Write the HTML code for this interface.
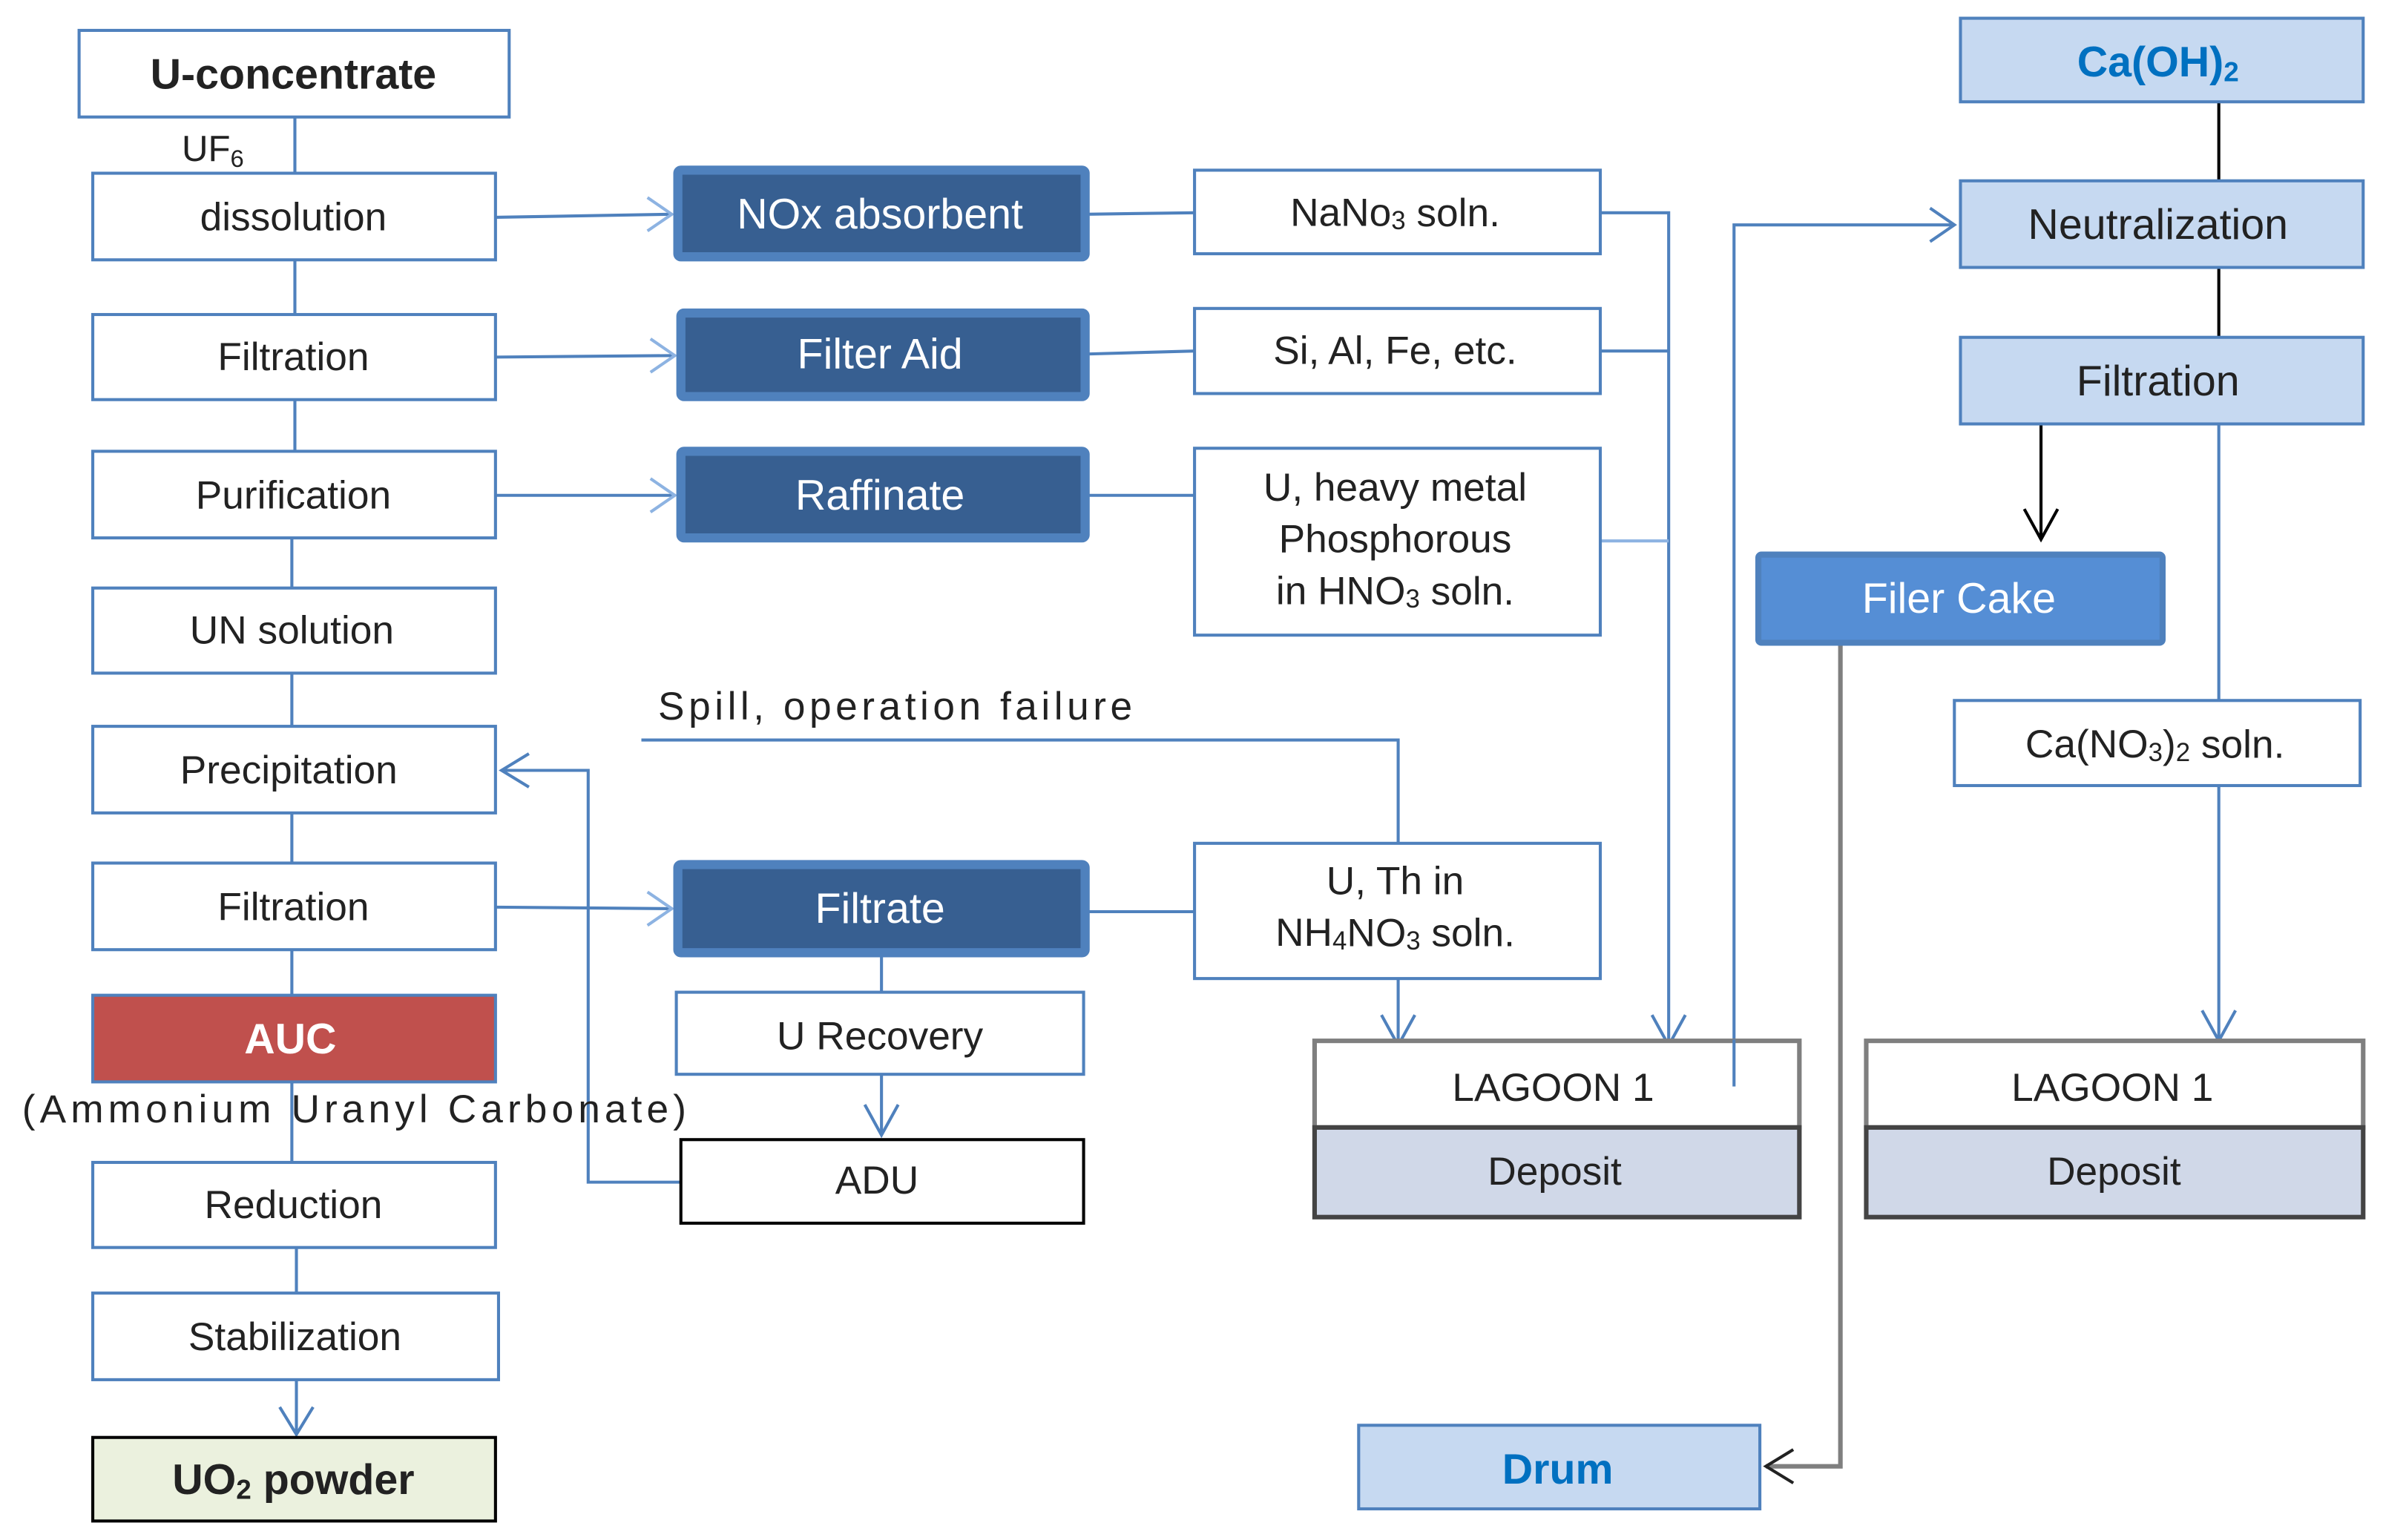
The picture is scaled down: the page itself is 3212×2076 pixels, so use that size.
<!DOCTYPE html>
<html><head><meta charset="utf-8"><style>
html,body{margin:0;padding:0;background:#fff}
svg{display:block}
text{font-family:"Liberation Sans",sans-serif;font-size:26px;fill:#222;text-anchor:middle;dominant-baseline:central}
</style></head><body>
<svg width="3212" height="2076" viewBox="0 0 1568 1013.5" xmlns="http://www.w3.org/2000/svg">
<g fill="none" stroke="#4f81bd" stroke-width="2">
<line x1="194" y1="77" x2="194" y2="114"/>
<line x1="194" y1="171" x2="194" y2="207"/>
<line x1="194" y1="263" x2="194" y2="297"/>
<line x1="192" y1="354" x2="192" y2="387"/>
<line x1="192" y1="443" x2="192" y2="478"/>
<line x1="192" y1="535" x2="192" y2="568"/>
<line x1="192" y1="625" x2="192" y2="655"/>
<line x1="192" y1="712" x2="192" y2="765"/>
<line x1="195" y1="821" x2="195" y2="851"/>
<line x1="195" y1="908" x2="195" y2="944"/>
<polyline points="184,926 195,944 206,926"/>
<line x1="326" y1="143" x2="442" y2="141"/><polyline points="426,130 442,141 426,152" stroke="#8db3e2"/>
<line x1="326" y1="235" x2="444" y2="234"/><polyline points="428,223 444,234 428,245" stroke="#8db3e2"/>
<line x1="326" y1="326" x2="444" y2="326"/><polyline points="428,315 444,326 428,337" stroke="#8db3e2"/>
<line x1="326" y1="597" x2="442" y2="598"/><polyline points="426,587 442,598 426,609" stroke="#8db3e2"/>
<line x1="715" y1="141" x2="786" y2="140"/>
<line x1="715" y1="233" x2="786" y2="231"/>
<line x1="715" y1="326" x2="786" y2="326"/>
<line x1="715" y1="600" x2="786" y2="600"/>
<polyline points="1053,140 1098,140 1098,688"/>
<line x1="1053" y1="231" x2="1098" y2="231"/>
<line x1="1048" y1="356" x2="1098" y2="356" stroke="#8db3e2"/>
<polyline points="1087,668 1098,688 1109,668"/>
<polyline points="422,487 920,487 920,555"/>
<line x1="920" y1="644" x2="920" y2="688"/>
<polyline points="909,668 920,688 931,668"/>
<line x1="580" y1="628" x2="580" y2="653"/>
<line x1="580" y1="707" x2="580" y2="747"/>
<polyline points="569,727 580,747 591,727"/>
<polyline points="448,778 387,778 387,507 330,507"/>
<polyline points="348,496 330,507 348,518"/>
<polyline points="1141,715 1141,148 1286,148"/>
<polyline points="1270,137 1286,148 1270,159"/>
<line x1="1460" y1="279" x2="1460" y2="461"/>
<line x1="1460" y1="517" x2="1460" y2="685"/>
<polyline points="1449,665 1460,685 1471,665"/>
</g>
<g stroke="#000" stroke-width="2" fill="none">
<line x1="1460" y1="67" x2="1460" y2="119"/>
<line x1="1460" y1="176" x2="1460" y2="222"/>
<line x1="1343" y1="279" x2="1343" y2="355"/>
<polyline points="1332,335 1343,355 1354,335"/>
</g>
<g stroke="#7f7f7f" stroke-width="3" fill="none">
<polyline points="1211,424 1211,965 1162,965"/>
<polyline points="1180,954 1162,965 1180,976" stroke="#222" stroke-width="2"/>
</g>
<g fill="#fff" stroke="#4f81bd" stroke-width="2">
<rect x="52" y="20" width="283" height="57"/>
<rect x="61" y="114" width="265" height="57"/>
<rect x="61" y="207" width="265" height="56"/>
<rect x="61" y="297" width="265" height="57"/>
<rect x="61" y="387" width="265" height="56"/>
<rect x="61" y="478" width="265" height="57"/>
<rect x="61" y="568" width="265" height="57"/>
<rect x="61" y="765" width="265" height="56"/>
<rect x="61" y="851" width="267" height="57"/>
<rect x="786" y="112" width="267" height="55"/>
<rect x="786" y="203" width="267" height="56"/>
<rect x="786" y="295" width="267" height="123"/>
<rect x="786" y="555" width="267" height="89"/>
<rect x="445" y="653" width="268" height="54"/>
<rect x="1286" y="461" width="267" height="56"/>
</g>
<rect x="61" y="655" width="265" height="57" fill="#c0504d" stroke="#4f81bd" stroke-width="2"/>
<rect x="61" y="946" width="265" height="55" fill="#ebf1de" stroke="#000" stroke-width="2"/>
<rect x="448" y="750" width="265" height="55" fill="#fff" stroke="#000" stroke-width="2"/>
<g fill="#375f91" stroke="#4f81bd" stroke-width="6">
<rect x="446" y="112" width="268" height="57" rx="2"/>
<rect x="448" y="206" width="266" height="55" rx="2"/>
<rect x="448" y="297" width="266" height="57" rx="2"/>
<rect x="446" y="569" width="268" height="58" rx="2"/>
</g>
<rect x="1157" y="365" width="266" height="58" fill="#558ed5" stroke="#4f81bd" stroke-width="4" rx="2"/>
<g fill="#c6d9f1" stroke="#4f81bd" stroke-width="2">
<rect x="1290" y="12" width="265" height="55"/>
<rect x="1290" y="119" width="265" height="57"/>
<rect x="1290" y="222" width="265" height="57"/>
<rect x="894" y="938" width="264" height="55"/>
</g>
<g stroke="#444" stroke-width="3">
<rect x="865" y="685" width="319" height="57" fill="#fff" stroke="#7f7f7f"/>
<rect x="865" y="742" width="319" height="59" fill="#d0d8e8"/>
<rect x="1228" y="685" width="327" height="57" fill="#fff" stroke="#7f7f7f"/>
<rect x="1228" y="742" width="327" height="59" fill="#d0d8e8"/>
</g>
<line x1="1141" y1="684" x2="1141" y2="715" stroke="#4f81bd" stroke-width="2"/>
<text x="193" y="49" font-weight="bold" style="font-size:28px">U-concentrate</text>
<text x="140" y="98" style="font-size:24px">UF<tspan dy="6" style="font-size:16px">6</tspan></text>
<text x="193" y="143">dissolution</text>
<text x="193" y="235">Filtration</text>
<text x="193" y="326">Purification</text>
<text x="192" y="415">UN solution</text>
<text x="190" y="507">Precipitation</text>
<text x="193" y="597">Filtration</text>
<text x="191" y="684" font-weight="bold" style="fill:#fff;font-size:28px">AUC</text>
<text x="233" y="730" style="font-size:26px" textLength="437" lengthAdjust="spacing">(Ammonium  Uranyl  Carbonate)</text>
<text x="193" y="793">Reduction</text>
<text x="194" y="880">Stabilization</text>
<text x="193" y="974" font-weight="bold" style="font-size:28px">UO<tspan dy="6" style="font-size:18px">2</tspan><tspan dy="-6"> powder</tspan></text>
<text x="579" y="141" style="fill:#fff;font-size:28px">NOx absorbent</text>
<text x="579" y="233" style="fill:#fff;font-size:28px">Filter  Aid</text>
<text x="579" y="326" style="fill:#fff;font-size:28px">Raffinate</text>
<text x="579" y="598" style="fill:#fff;font-size:28px">Filtrate</text>
<text x="1289" y="394" style="fill:#fff;font-size:28px">Filer  Cake</text>
<text x="918" y="140">NaNo<tspan dy="5" style="font-size:17px">3</tspan><tspan dy="-5"> soln.</tspan></text>
<text x="918" y="231">Si,  Al,  Fe,  etc.</text>
<text x="918" y="321">U,  heavy  metal</text>
<text x="918" y="355">Phosphorous</text>
<text x="918" y="389">in  HNO<tspan dy="5" style="font-size:17px">3</tspan><tspan dy="-5">  soln.</tspan></text>
<text x="918" y="580">U,  Th  in</text>
<text x="918" y="614">NH<tspan dy="5" style="font-size:17px">4</tspan><tspan dy="-5">NO</tspan><tspan dy="5" style="font-size:17px">3</tspan><tspan dy="-5">  soln.</tspan></text>
<text x="589" y="465" textLength="312" lengthAdjust="spacing">Spill,  operation  failure</text>
<text x="579" y="682">U  Recovery</text>
<text x="577" y="777">ADU</text>
<text x="1022" y="716">LAGOON 1</text>
<text x="1023" y="771">Deposit</text>
<text x="1390" y="716">LAGOON 1</text>
<text x="1391" y="771">Deposit</text>
<text x="1420" y="41" style="fill:#0070c0;font-size:28px" font-weight="bold">Ca(OH)<tspan dy="6" style="font-size:18px">2</tspan></text>
<text x="1420" y="148" style="font-size:28px">Neutralization</text>
<text x="1420" y="251" style="font-size:28px">Filtration</text>
<text x="1418" y="490">Ca(NO<tspan dy="5" style="font-size:17px">3</tspan><tspan dy="-5">)</tspan><tspan dy="5" style="font-size:17px">2</tspan><tspan dy="-5">  soln.</tspan></text>
<text x="1025" y="967" font-weight="bold" style="fill:#0070c0;font-size:28px">Drum</text>
</svg>
</body></html>
